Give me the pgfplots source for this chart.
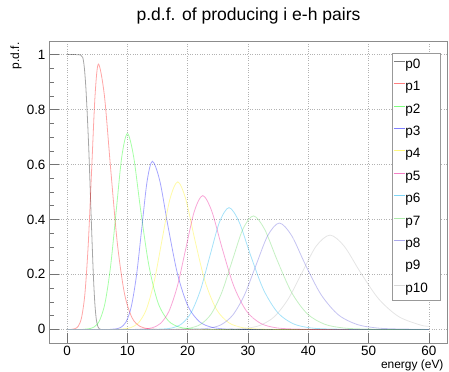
\documentclass[border=0pt]{standalone}
\usepackage{fontspec}
\setmainfont{Liberation Sans}
\usepackage{pgfplots}
\pgfplotsset{compat=1.18}
\definecolor{r8}{RGB}{89,212,84}
\definecolor{r9}{RGB}{89,84,216}
\definecolor{r11}{RGB}{180,180,180}
\newcommand\lgE[1]{\makebox[34bp][l]{#1}}
\begin{document}
\begin{tikzpicture}
\useasboundingbox (0bp,0bp) rectangle (449bp,372bp);
\begin{axis}[
  at={(49bp,29bp)}, anchor=south west,
  scale only axis, width=398bp, height=302bp,
  xmin=-3, xmax=63, ymin=-0.05, ymax=1.05,
  xtick={0,10,20,30,40,50,60},
  ytick={0,0.2,0.4,0.6,0.8,1},
  minor y tick num=3,
  tick pos=left, tick align=inside,
  major tick length=10bp, minor tick length=5bp,
  grid=major, major grid style={dotted, black!30, line width=0.5bp},
  axis line style={black!45, line width=0.7bp},
  tick style={black!55, line width=0.6bp},
  /pgf/number format/assume math mode=true,
  ticklabel style={font=\fontsize{13.5}{15}\selectfont},
  every axis plot/.append style={line width=0.8bp, draw opacity=0.35},
  legend image code/.code={\draw[#1, line width=1bp, draw opacity=0.5] (0bp,3.5bp) -- (11bp,3.5bp);},
  legend cell align=left,
  legend style={at={(axis description cs:0.862,0.96)}, anchor=north west,
    draw=black!40, fill=white, line width=0.5bp, inner xsep=1bp, inner ysep=5bp,
    font=\fontsize{13.6}{16}\selectfont, row sep=9.4bp,
    nodes={inner sep=0pt, text height=10bp, text depth=3bp},
    /tikz/every even column/.append style={column sep=1.5bp}},
]
% p0
\addplot[black, smooth] coordinates {(1.5,1) (1.75,1) (2.0,1) (2.3,0.998) (2.6,0.99) (2.85,0.955) (3.1,0.885) (3.35,0.78) (3.6,0.655) (3.85,0.5) (4.1,0.345) (4.35,0.2) (4.6,0.095) (4.85,0.035) (5.1,0.01) (5.35,0.001) (5.6,0)};
\addlegendentry{\lgE{p0}}
\addplot[black, forget plot] coordinates {(0,1) (1.5,1)};
\addplot[black, forget plot] coordinates {(5.6,0) (60,0)};
% p1
\addplot[red, smooth] coordinates {(0.72,0) (1.28,.0021) (1.84,.0107) (2.40,.0424) (2.96,.1307) (3.52,.3137) (4.08,.5859) (4.64,.8525) (5.2,.966) (6.18,.8525) (7.22,.5859) (8.33,.3137) (9.51,.1307) (10.76,.0424) (12.07,.0107) (13.46,.0021) (14.9,0)};
\addlegendentry{\lgE{p1}}
\addplot[red, forget plot] coordinates {(0,0) (0.72,0)};
\addplot[red, forget plot] coordinates {(14.9,0) (60,0)};
% p2
\addplot[green, smooth] coordinates {(2.6,0) (3.525,.0016) (4.45,.0079) (5.375,.0313) (6.3,.0965) (7.225,.2315) (8.15,.4324) (9.075,.6292) (10,.713) (11.03,.6292) (12.21,.4324) (13.57,.2315) (15.08,.0965) (16.77,.0313) (18.61,.0079) (20.62,.0016) (22.7,0)};
\addlegendentry{\lgE{p2}}
\addplot[green, forget plot] coordinates {(0,0) (2.6,0)};
\addplot[green, forget plot] coordinates {(22.7,0) (60,0)};
% p3
\addplot[blue, smooth] coordinates {(7.15,0) (8.025,.0013) (8.9,.0068) (9.775,.0269) (10.65,.0828) (11.525,.1987) (12.4,.3712) (13.275,.5401) (14.15,.612) (15.38,.5401) (16.77,.3712) (18.34,.1987) (20.08,.0828) (21.99,.0269) (24.07,.0068) (26.33,.0013) (28.7,0)};
\addlegendentry{\lgE{p3}}
\addplot[blue, forget plot] coordinates {(0,0) (7.15,0)};
\addplot[blue, forget plot] coordinates {(28.7,0) (60,0)};
% p4
\addplot[yellow, smooth] coordinates {(7.95,0) (9.25,.0012) (10.55,.006) (11.85,.0236) (13.15,.0727) (14.45,.1744) (15.75,.3257) (17.05,.4739) (18.35,.537) (19.68,.4739) (21.19,.3257) (22.88,.1744) (24.76,.0727) (26.83,.0236) (29.08,.006) (31.52,.0012) (34.1,0)};
\addlegendentry{\lgE{p4}}
\addplot[yellow, forget plot] coordinates {(0,0) (7.95,0)};
\addplot[yellow, forget plot] coordinates {(34.1,0) (60,0)};
% p5
\addplot[magenta, smooth] coordinates {(11.3,0) (12.7,.0011) (14.1,.0054) (15.5,.0214) (16.9,.0659) (18.3,.1581) (19.7,.2954) (21.1,.4298) (22.5,.487) (24.0,.4298) (25.71,.2954) (27.63,.1581) (29.76,.0659) (32.1,.0214) (34.65,.0054) (37.41,.0011) (40.3,0)};
\addlegendentry{\lgE{p5}}
\addplot[magenta, forget plot] coordinates {(0,0) (11.3,0)};
\addplot[magenta, forget plot] coordinates {(40.3,0) (60,0)};
% p6
\addplot[cyan, smooth] coordinates {(14.25,0) (15.83,.001) (17.4,.0049) (18.98,.0194) (20.55,.0599) (22.13,.1438) (23.7,.2687) (25.28,.3909) (26.85,.443) (28.53,.3909) (30.44,.2687) (32.58,.1438) (34.96,.0599) (37.57,.0194) (40.42,.0049) (43.5,.001) (46.8,0)};
\addlegendentry{\lgE{p6}}
\addplot[cyan, forget plot] coordinates {(0,0) (14.25,0)};
\addplot[cyan, forget plot] coordinates {(46.8,0) (60,0)};
% p7
\addplot[r8, smooth] coordinates {(16.9,0) (18.65,.0009) (20.4,.0046) (22.15,.0181) (23.9,.0559) (25.65,.1341) (27.4,.2505) (29.15,.3645) (30.9,.413) (32.75,.3645) (34.86,.2505) (37.23,.1341) (39.85,.0559) (42.74,.0181) (45.89,.0046) (49.29,.0009) (53,0)};
\addlegendentry{\lgE{p7}}
\addplot[r8, forget plot] coordinates {(0,0) (16.9,0)};
\addplot[r8, forget plot] coordinates {(53,0) (60,0)};
% p8
\addplot[r9, smooth] coordinates {(19.8,0) (21.73,.0009) (23.65,.0043) (25.58,.017) (27.5,.0524) (29.43,.1257) (31.35,.2347) (33.28,.3415) (35.2,.387) (37.23,.3415) (39.53,.2347) (42.13,.1257) (45.0,.0524) (48.16,.017) (51.6,.0043) (55.33,.0009) (59.3,0)};
\addlegendentry{\lgE{p8}}
\addplot[r9, forget plot] coordinates {(0,0) (19.8,0)};
\addplot[r9, forget plot] coordinates {(59.3,0) (60,0)};
% p9
\addplot[white, smooth] coordinates {(22.6,0) (24.7,.0008) (26.8,.004) (28.9,.016) (31.0,.0492) (33.1,.1182) (35.2,.2208) (37.3,.3212) (39.4,.364) (41.6,.3212) (44.11,.2208) (46.92,.1182) (50.05,.0492) (53.48,.016) (57.22,.004) (60,.002)};
\addlegendentry{\lgE{p9}}
\addplot[white, forget plot] coordinates {(0,0) (22.6,0)};
% p10
\addplot[r11, smooth] coordinates {(25.2,0) (27.5,.0008) (29.8,.0038) (32.1,.0151) (34.4,.0464) (36.7,.1114) (39.0,.208) (41.3,.3027) (43.6,.343) (45.95,.3027) (48.63,.208) (51.64,.1114) (54.97,.0464) (58.64,.0151) (60,.011)};
\addlegendentry{\lgE{p10}}
\addplot[r11, forget plot] coordinates {(0,0) (25.2,0)};
\end{axis}
\node[font=\fontsize{17.6}{20}\selectfont] at (248.5bp,356bp) {p.d.f. of producing i e-h pairs};
\node[rotate=90, anchor=east, font=\fontsize{12}{14}\selectfont] at (16bp,333bp) {p.d.f.};
\node[anchor=east, font=\fontsize{12}{14}\selectfont] at (447bp,7bp) {energy (eV)};
\end{tikzpicture}
\end{document}
